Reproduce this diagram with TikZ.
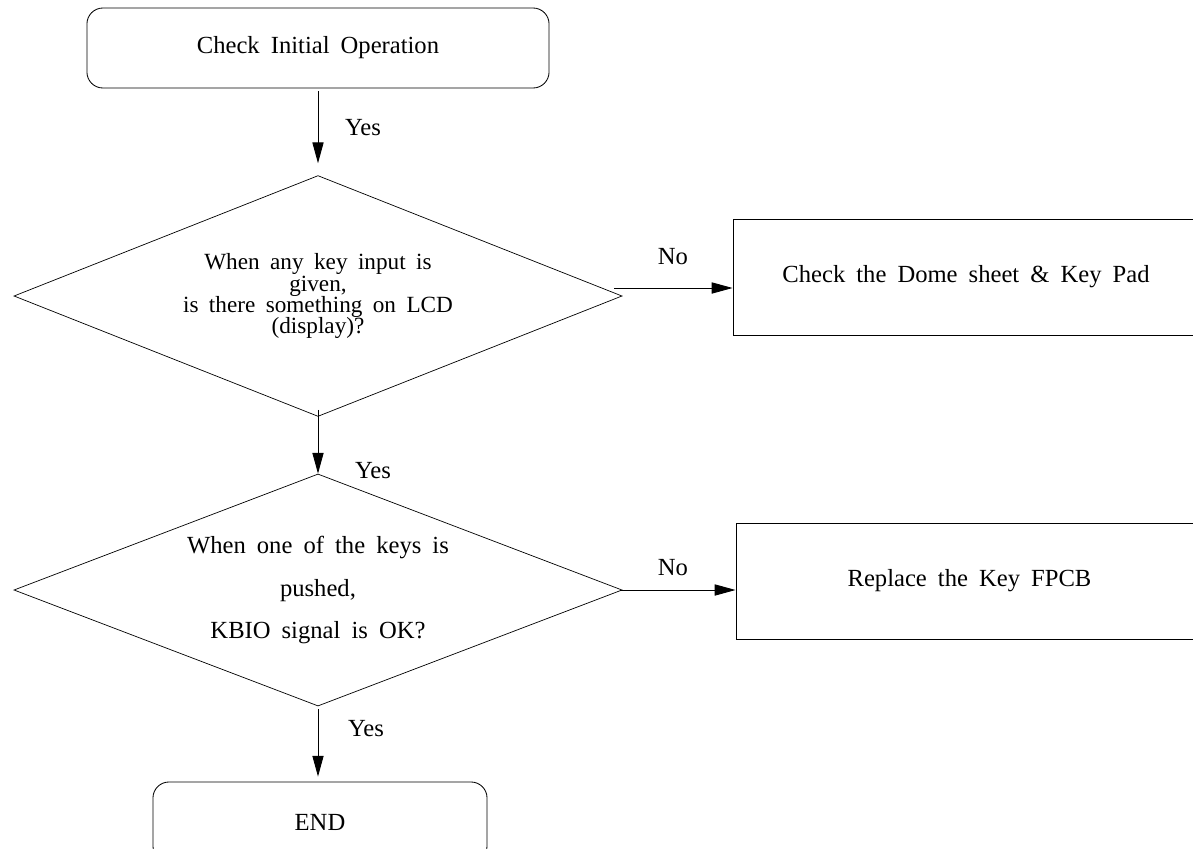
\documentclass[tikz,border=0pt]{standalone}
\usepackage{fontspec}
\setmainfont{Liberation Serif}
\usetikzlibrary{shapes.geometric,arrows.meta}

\protected\def\widesp{\spaceskip=0.45em\relax}
\protected\def\tightlines{\lineskiplimit=-20pt\relax}

\tikzset{
  txt/.style={font=\fontsize{17.5}{20}\selectfont\widesp},
  terminal/.style={txt,draw,line width=0.6pt,rounded corners=0.4cm,
    minimum height=2cm,inner sep=0pt},
  process/.style={txt,draw,line width=0.6pt,minimum height=2.9cm,inner sep=0pt},
  decision/.style={txt,draw,line width=0.5pt,diamond,aspect=2.6,inner sep=0pt,
    align=center,minimum width=15.2cm},
  arr/.style={-{Triangle[length=0.52cm,width=0.28cm]},line width=0.6pt},
  lbl/.style={txt,inner sep=0pt}
}

\begin{document}
\begin{tikzpicture}[x=0.025cm,y=-0.025cm]

          \useasboundingbox (0,0) rectangle (1193,849);

          % Start
          \node[terminal,minimum width=11.55cm] (start) at (318,48)
              {Check Initial Operation};

          % First question
          \node[decision,minimum height=6.02cm,
                font=\fontsize{16.5}{15}\selectfont\widesp\tightlines]
              (keyin) at (318,296)
              {When any key input is\\ given,\\ is there something on LCD\\ (display)?};
          \node[process,minimum width=11.65cm] (dome) at (966,277)
              {Check the Dome sheet \& Key Pad};

          % Second question
          \node[decision,minimum height=5.8cm,
                font=\fontsize{17.5}{30.5}\selectfont\widesp]
              (kbio) at (318,590)
              {When one of the keys is\\ pushed,\\ KBIO signal is OK?};
          \node[process,minimum width=11.675cm] (fpcb) at (969.5,581)
              {Replace the Key FPCB};

          % End
          \node[terminal,minimum width=8.35cm] (end) at (320,822) {END};

          % Connectors
          \draw[arr,shorten <=0.075cm,shorten >=0.3cm] (start.south) -- (keyin.north);
          \draw[arr,shorten <=-0.175cm] (keyin.south) -- (kbio.north);
          \draw[arr,shorten <=0.075cm,shorten >=0.125cm] (kbio.south) -- (kbio.south |- end.north);
          \draw[arr] ([shift={(-8,-8)}]keyin.east) -- ([shift={(0,11)}]dome.west);
          \draw[arr] ([xshift=-0.05cm]kbio.east) -- (kbio.east -| fpcb.west);

          % Labels
          \node[lbl] (yes1) at (363,128) {Yes};
          \node[lbl] (yes2) at (373,471) {Yes};
          \node[lbl] (yes3) at (366,729) {Yes};
          \node[lbl] (no1) at (673,257) {No};
          \node[lbl] (no2) at (673,568) {No};

\end{tikzpicture}
\end{document}
